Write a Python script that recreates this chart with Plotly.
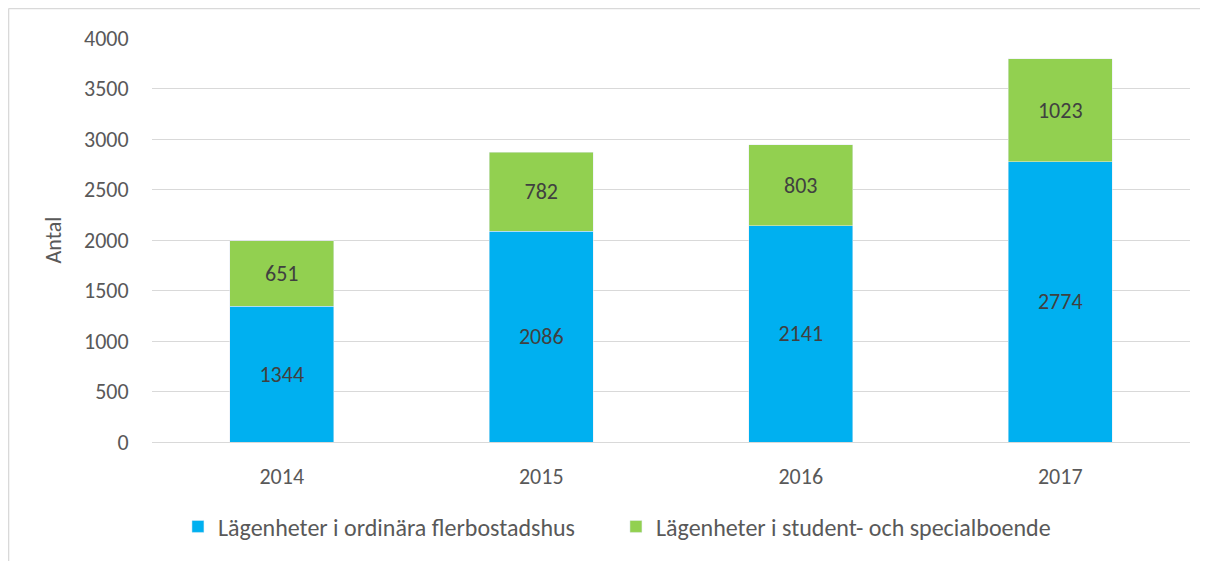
import plotly.graph_objects as go

years = ["2014", "2015", "2016", "2017"]
ordinara = [1344, 2086, 2141, 2774]
student = [651, 782, 803, 1023]

font_family = "Carlito, Liberation Sans, Arial"
txt = "#595959"

fig = go.Figure()
fig.add_trace(go.Bar(
    name="Lägenheter i ordinära flerbostadshus", x=years, y=ordinara,
    marker_color="#00B0F0", text=ordinara, textposition="inside",
    insidetextanchor="middle", textfont=dict(color="#404040", size=22),
))
fig.add_trace(go.Bar(
    name="Lägenheter i student- och specialboende", x=years, y=student,
    marker_color="#92D050", text=student, textposition="inside",
    insidetextanchor="middle", textfont=dict(color="#404040", size=22),
))

# page body has an 8px margin, so the figure is sized a little smaller
fig.update_layout(
    barmode="stack",
    bargap=0.6,
    width=1200, height=553,
    margin=dict(l=144, r=18, t=30, b=119),
    paper_bgcolor="white", plot_bgcolor="white",
    font=dict(family=font_family, size=22, color=txt),
    uniformtext=dict(minsize=22, mode="show"),
    yaxis=dict(
        range=[0, 4000], dtick=500, showgrid=True, gridcolor="#D9D9D9",
        gridwidth=1, zeroline=False, ticks="outside", ticklen=18, tickcolor="white",
        title=dict(text="Antal", font=dict(size=22, color=txt), standoff=16),
        tickfont=dict(size=22, color=txt),
    ),
    xaxis=dict(
        showline=True, linecolor="#D9D9D9", linewidth=1,
        tickfont=dict(size=22, color=txt), ticks="outside", ticklen=15, tickcolor="white",
    ),
    legend=dict(
        orientation="h", x=0.025, xanchor="left", y=-0.21, yanchor="middle",
        font=dict(size=24, color=txt), traceorder="normal",
        itemwidth=30, entrywidth=393,
    ),
    showlegend=True,
)

# thin chart-area border (top and left visible in the original)
fig.add_shape(type="line", xref="paper", yref="paper",
              x0=-0.1382, x1=1.1, y0=1.0730, y1=1.0730,
              line=dict(color="#D9D9D9", width=1.5))
fig.add_shape(type="line", xref="paper", yref="paper",
              x0=-0.1382, x1=-0.1382, y0=1.0730, y1=-0.5,
              line=dict(color="#D9D9D9", width=1.5))

fig.write_html("out.html")
